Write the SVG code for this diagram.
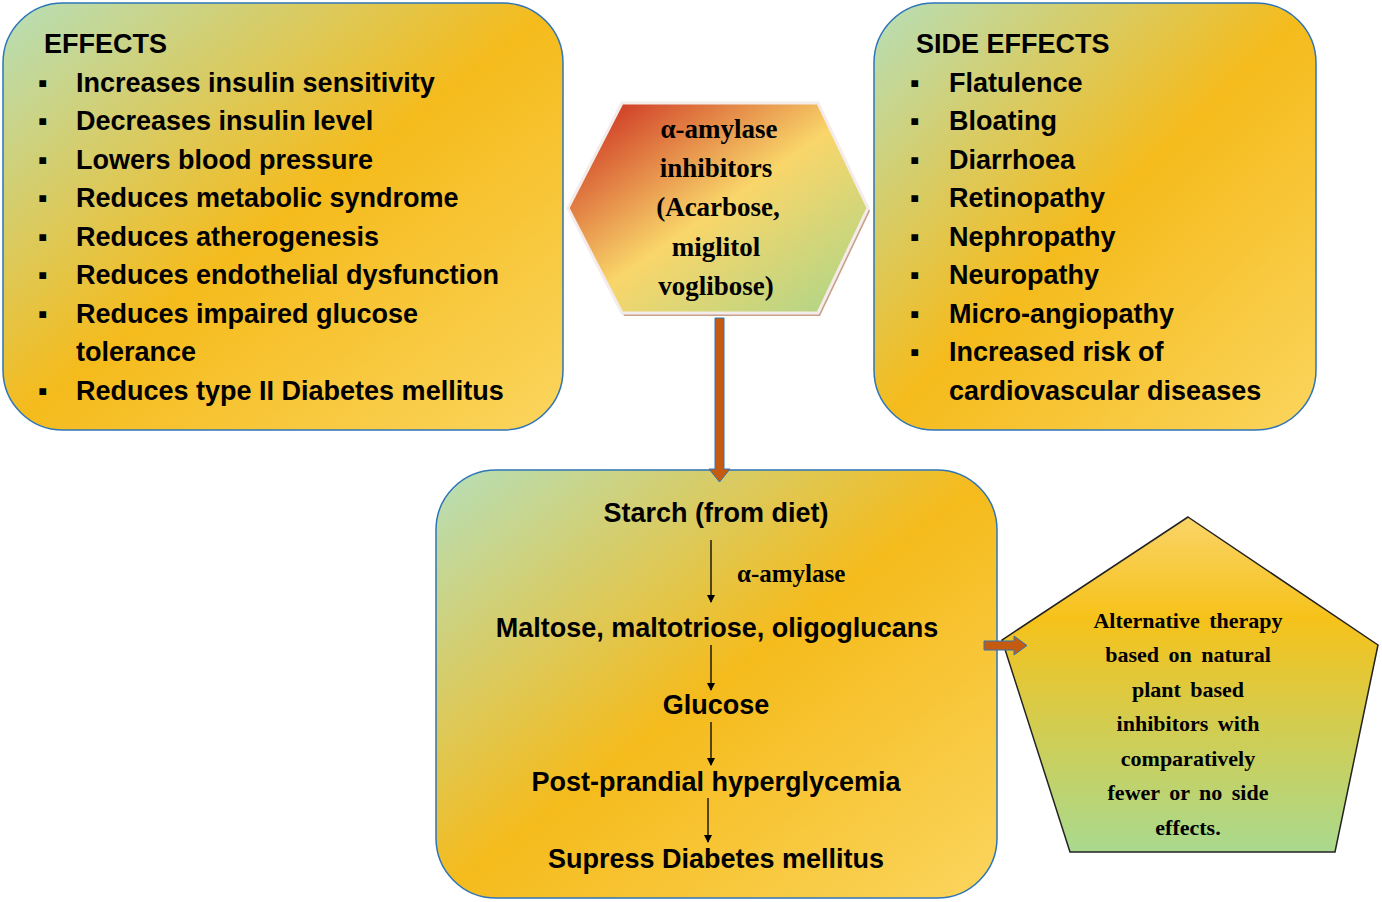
<svg xmlns="http://www.w3.org/2000/svg" width="1382" height="902" viewBox="0 0 1382 902">
<style>
.b{font-family:"Liberation Sans",Arial,sans-serif;font-weight:bold;font-size:27px;fill:#000}
.s{font-family:"Liberation Serif","Times New Roman",serif;font-weight:bold;fill:#000}
.box{stroke:#2e75b6;stroke-width:1.5}
.ln{stroke:#000;stroke-width:1.3;fill:none}
</style>
<defs>
<linearGradient id="g1" x1="0" y1="0" x2="1" y2="1">
<stop offset="0" stop-color="#b6dfb9"/><stop offset="0.5" stop-color="#f5bb1c"/><stop offset="1" stop-color="#fbd55e"/>
</linearGradient>
<linearGradient id="gh" x1="0" y1="0" x2="1" y2="1">
<stop offset="0" stop-color="#c8201a"/><stop offset="0.5" stop-color="#f9d66a"/><stop offset="1" stop-color="#a9d58a"/>
</linearGradient>
<linearGradient id="gp" x1="0" y1="0" x2="0" y2="1">
<stop offset="0" stop-color="#fad468"/><stop offset="0.3" stop-color="#f6c21a"/><stop offset="1" stop-color="#a9d98e"/>
</linearGradient>
<marker id="ah" markerWidth="8" markerHeight="8" refX="7" refY="4" orient="auto" markerUnits="userSpaceOnUse"><path d="M0,0 L8,4 L0,8 Z" fill="#000"/></marker>
</defs>
<g id="effects">
<rect class="box" x="3" y="3" width="560" height="427" rx="60" fill="url(#g1)"/>
<text class="b" x="44" y="53">EFFECTS</text>
<g class="b">
<text x="38" y="92">▪</text><text x="76" y="92">Increases insulin sensitivity</text>
<text x="38" y="130">▪</text><text x="76" y="130">Decreases insulin level</text>
<text x="38" y="169">▪</text><text x="76" y="169">Lowers blood pressure</text>
<text x="38" y="207">▪</text><text x="76" y="207">Reduces metabolic syndrome</text>
<text x="38" y="246">▪</text><text x="76" y="246">Reduces atherogenesis</text>
<text x="38" y="284">▪</text><text x="76" y="284">Reduces endothelial dysfunction</text>
<text x="38" y="323">▪</text><text x="76" y="323">Reduces impaired glucose</text>
<text x="76" y="361">tolerance</text>
<text x="38" y="400">▪</text><text x="76" y="400">Reduces type II Diabetes mellitus</text>
</g>
</g>
<g id="side">
<rect class="box" x="874" y="3" width="442" height="427" rx="60" fill="url(#g1)"/>
<text class="b" x="916" y="53">SIDE EFFECTS</text>
<g class="b">
<text x="910" y="92">▪</text><text x="949" y="92">Flatulence</text>
<text x="910" y="130">▪</text><text x="949" y="130">Bloating</text>
<text x="910" y="169">▪</text><text x="949" y="169">Diarrhoea</text>
<text x="910" y="207">▪</text><text x="949" y="207">Retinopathy</text>
<text x="910" y="246">▪</text><text x="949" y="246">Nephropathy</text>
<text x="910" y="284">▪</text><text x="949" y="284">Neuropathy</text>
<text x="910" y="323">▪</text><text x="949" y="323">Micro-angiopathy</text>
<text x="910" y="361">▪</text><text x="949" y="361">Increased risk of</text>
<text x="949" y="400">cardiovascular diseases</text>
</g>
</g>
<g id="inhibitors">
<polygon points="624,106 820,106 870,211 820,316 624,316 570,211" fill="#c9a08a"/>
<polygon points="622,103 818,103 868,208 818,313 622,313 568,208" fill="url(#gh)" stroke="#f4ecea" stroke-width="3"/>
<g class="s" font-size="27" text-anchor="middle">
<text x="719" y="138">α-amylase</text>
<text x="716" y="177">inhibitors</text>
<text x="718" y="216">(Acarbose,</text>
<text x="716" y="256">miglitol</text>
<text x="716" y="295">voglibose)</text>
</g>
</g>
<g id="pathway">
<rect class="box" x="436" y="470" width="561" height="428" rx="60" fill="url(#g1)"/>
<g class="b" text-anchor="middle">
<text x="716" y="522">Starch (from diet)</text>
<text x="717" y="637">Maltose, maltotriose, oligoglucans</text>
<text x="716" y="714">Glucose</text>
<text x="716" y="791">Post-prandial hyperglycemia</text>
<text x="716" y="868">Supress Diabetes mellitus</text>
</g>
<text class="s" font-size="25" x="737" y="582">α-amylase</text>
</g>
<g id="therapy">
<polygon points="1188,517 1378,645 1335,852 1070,852 1002,640" fill="url(#gp)" stroke="#222" stroke-width="1.5"/>
<g class="s" font-size="22" text-anchor="middle" word-spacing="4">
<text x="1188" y="628">Alternative therapy</text>
<text x="1188" y="662">based on natural</text>
<text x="1188" y="697">plant based</text>
<text x="1188" y="731">inhibitors with</text>
<text x="1188" y="766">comparatively</text>
<text x="1188" y="800">fewer or no side</text>
<text x="1188" y="835">effects.</text>
</g>
</g>
<g id="connectors">
<path d="M715,318 H724 V469 H730 L719.5,482 L709,469 H715 Z" fill="#c55a11" stroke="#2e75b6" stroke-width="1"/>
<path d="M984,641 H1014 V636 L1027,645.5 L1014,655 V650 H984 Z" fill="#c55a11" stroke="#2e75b6" stroke-width="1"/>
<line class="ln" x1="711" y1="540" x2="711" y2="602" marker-end="url(#ah)"/>
<line class="ln" x1="711" y1="645" x2="711" y2="690" marker-end="url(#ah)"/>
<line class="ln" x1="711" y1="722" x2="711" y2="765" marker-end="url(#ah)"/>
<line class="ln" x1="708" y1="798" x2="708" y2="842" marker-end="url(#ah)"/>
</g>
</svg>
